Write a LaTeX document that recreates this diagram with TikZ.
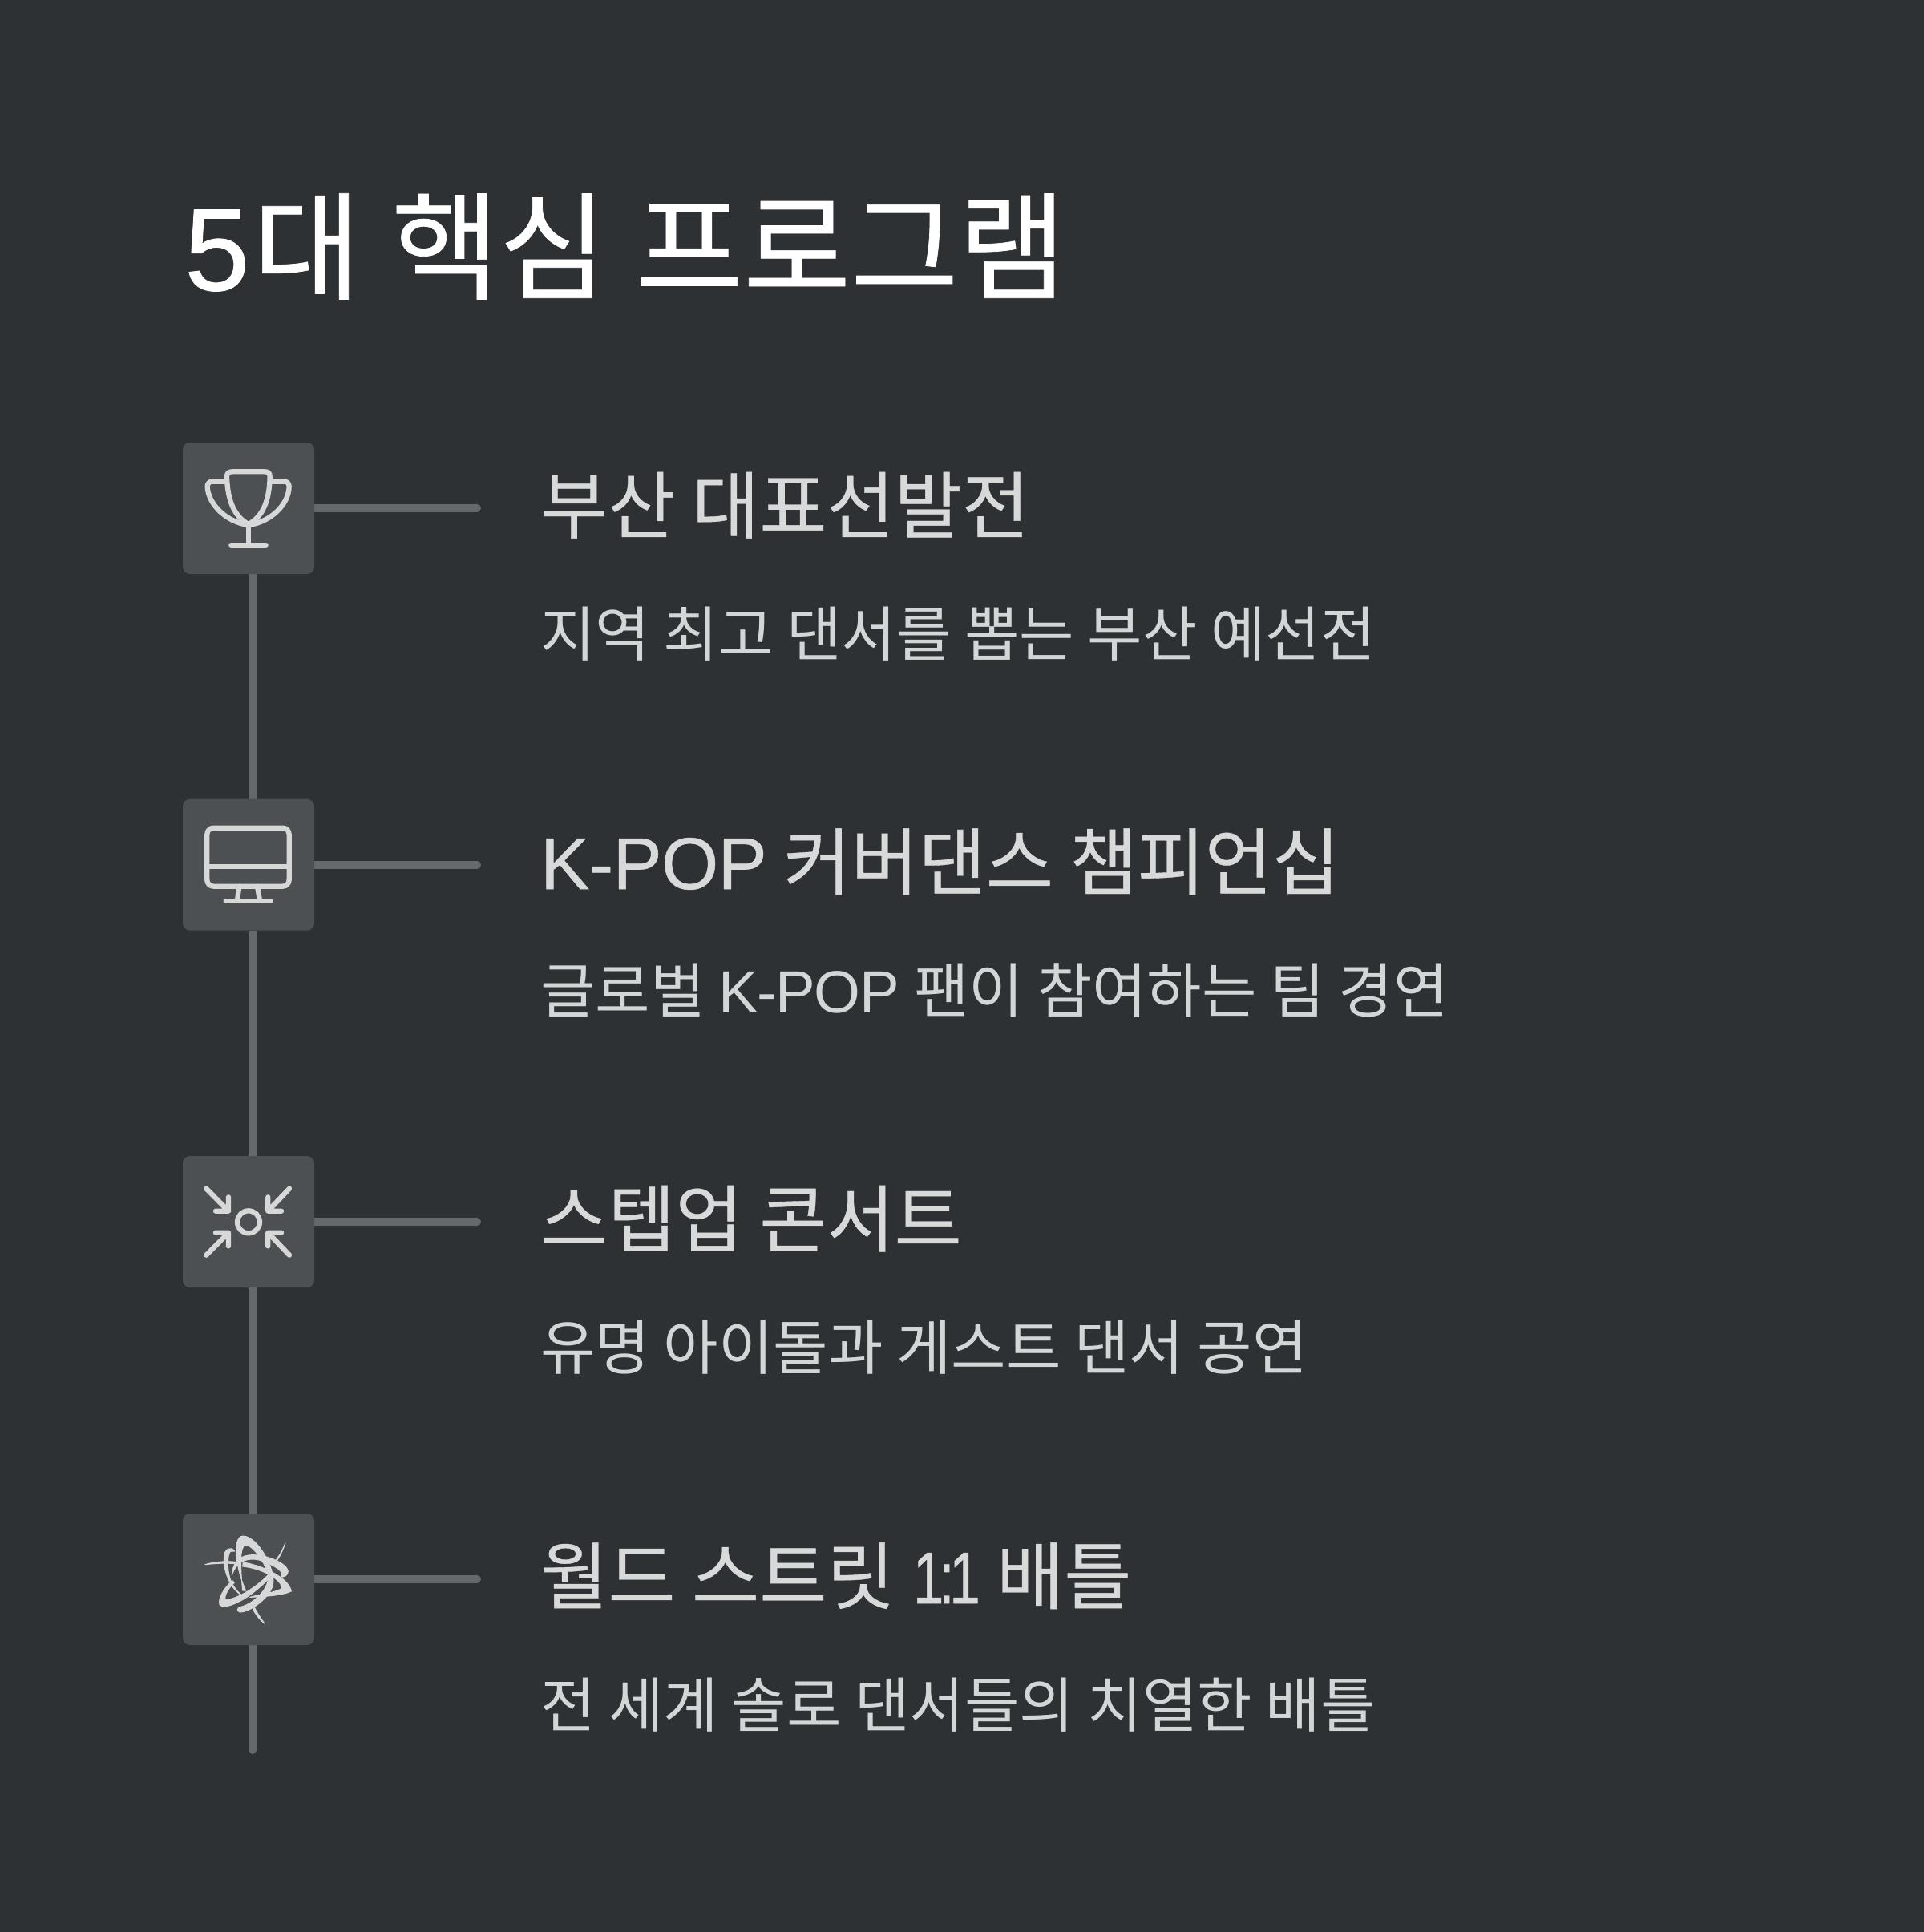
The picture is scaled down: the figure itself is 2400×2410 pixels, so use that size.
\documentclass[tikz,border=0pt]{standalone}
\usepackage{fontspec}
\usetikzlibrary{backgrounds}
\newfontfamily\krf{Noto Sans CJK KR}
\newfontfamily\krt[FakeBold=0.5]{Noto Sans CJK KR}
\newfontfamily\krh[FakeBold=0.4]{Noto Sans CJK KR}
\newfontfamily\laf{Liberation Sans}
\newfontfamily\lat[FakeBold=0.7]{Liberation Sans}
\newfontfamily\lao[FakeBold=0.7,FakeStretch=0.75]{Liberation Sans}
\newfontfamily\lah[FakeBold=0.6,LetterSpace=-0.6]{Liberation Sans}
\newfontfamily\las[LetterSpace=-2]{Liberation Sans}
\definecolor{bgc}{HTML}{2E3134}
\definecolor{boxc}{HTML}{4C5053}
\definecolor{linec}{HTML}{65696C}
\definecolor{iconc}{HTML}{D5D8D7}
\definecolor{headc}{HTML}{D8DADA}
\definecolor{subc}{HTML}{D3D6D6}
\tikzset{
  iconbox/.style={draw=none,fill=boxc,rounded corners=9pt,minimum width=164pt,minimum height=164pt,inner sep=0pt,outer sep=0pt},
  rail/.style={draw=linec,line width=10pt,line cap=round},
  vrail/.style={draw=linec,line width=10pt},
  icon/.style={draw=iconc,line width=6.3pt,line cap=round,line join=round},
  swirl/.style={fill=iconc,draw=iconc,line width=1pt,line join=round},
  titletext/.style={anchor=base west,inner sep=0pt,text=white,font=\krt\fontsize{146}{146}\selectfont},
  headtext/.style={anchor=base west,inner sep=0pt,text=headc,font=\krh\fontsize{91.5}{92}\selectfont},
  subtext/.style={anchor=base west,inner sep=0pt,text=subc,font=\krf\fontsize{74.4}{75}\selectfont},
}
\begin{document}
\begin{tikzpicture}[x=1pt,y=-1pt]
\useasboundingbox (0,0) rectangle (2400,2410);
\begin{pgfonlayer}{background}
\fill[bgc] (0,0) rectangle (2400,2410);
\end{pgfonlayer}
\node[titletext] (title) at (230,362) {{\lat 5}\kern4pt 대\hspace{6pt} 핵심\hspace{3pt} 프로그램};
\node[iconbox] (b1) at (310,634) {};
\node[iconbox] (b2) at (310,1078.7) {};
\node[iconbox] (b3) at (310,1524) {};
\node[iconbox] (b4) at (310,1970) {};
\coordinate (h1) at (595,634);
\coordinate (h2) at (595,1078.7);
\coordinate (h3) at (595,1524);
\coordinate (h4) at (595,1970);
\coordinate (vend) at (315,2183);
\begin{pgfonlayer}{background}
\draw[rail] (b1.east) -- (h1);
\draw[rail] (b2.east) -- (h2);
\draw[rail] (b3.east) -- (h3);
\draw[rail] (b4.east) -- (h4);
\draw[vrail] ([xshift=5pt]b1.south) -- ([xshift=5pt]b2.north);
\draw[vrail] ([xshift=5pt]b2.south) -- ([xshift=5pt]b3.north);
\draw[vrail] ([xshift=5pt]b3.south) -- ([xshift=5pt]b4.north);
\draw[rail] ([xshift=5pt]b4.south) -- (vend);
\end{pgfonlayer}
\node[headtext] (h1t) at (674,664.5) {부산 대표선발전};
\node[subtext] (s1t) at (674,818.5) {지역 최고 댄서를 뽑는 부산 예선전};
\node[headtext] (h2t) at (674,1109) {{\lah K-POP} 커버댄스 챔피언십};
\node[subtext] (s2t) at (674,1263) {글로벌 {\las K-POP}\kern2pt{} 팬이 참여하는 팀 경연};
\node[headtext] (h3t) at (674,1554.5) {스텝업 콘서트};
\node[subtext] (s3t) at (674,1708.5) {유명 아이돌과 게스트 댄서 공연};
\node[headtext] (h4t) at (674,2000) {월드 스트릿 \kern3pt{\lao 1\kern-6pt:\kern-6pt 1} 배틀};
\node[subtext] (s4t) at (674,2154) {전 세계 솔로 댄서들의 치열한 배틀};
% trophy
\begin{scope}[shift={(210,530)},x=0.33333pt,y=-0.33333pt]
\draw[icon] (219,195) .. controls (219,180) and (225,175) .. (240,175) -- (360,175) .. controls (375,175) and (380,180) .. (380,195) .. controls (378,290) and (350,345) .. (300,372) .. controls (250,345) and (222,290) .. (219,195) -- cycle;
\draw[icon] (219,212) -- (165,212) .. controls (152,212) and (146,220) .. (146,232) .. controls (150,300) and (220,365) .. (300,375) .. controls (380,365) and (450,300) .. (452,232) .. controls (452,220) and (446,212) .. (433,212) -- (380,212);
\draw[icon] (300,375) -- (300,449);
\draw[icon] (235,449) -- (365,449);
\end{scope}
% monitor
\begin{scope}[shift={(210,980)},x=0.33333pt,y=-0.33333pt]
\draw[icon,rounded corners=8pt] (145,158) rectangle (452,377);
\draw[icon] (145,303) -- (452,303);
\draw[icon] (265,377) -- (258,430);
\draw[icon] (333,377) -- (342,430);
\draw[icon] (215,431) -- (383,431);
\end{scope}
% arrows
\begin{scope}[shift={(210,1430)},x=0.33333pt,y=-0.33333pt]
\draw[icon] (300,283) circle [radius=14pt];
\draw[icon] (142,158) -- (225,242) (177,242) -- (225,242) -- (225,190);
\draw[icon] (453,158) -- (373,242) (423,242) -- (373,242) -- (373,190);
\draw[icon] (142,407) -- (225,323) (177,323) -- (225,323) -- (225,373);
\draw[icon] (453,407) -- (373,323) (423,323) -- (373,323) -- (373,373);
\end{scope}
% swirl
\begin{scope}[shift={(210,1880)},x=0.33333pt,y=-0.33333pt]
\path[swirl] (290,312) .. controls (255,240) and (235,110) .. (280,108) .. controls (335,110) and (400,230) .. (392,285) .. controls (385,340) and (300,395) .. (268,393) .. controls (255,390) and (255,375) .. (275,372) .. controls (320,360) and (385,300) .. (372,250) .. controls (360,200) and (310,140) .. (290,142) .. controls (265,145) and (270,230) .. (278,312) -- cycle;
\path[swirl] (275,330) .. controls (235,310) and (205,240) .. (208,190) .. controls (208,155) and (235,145) .. (248,165) -- (235,165) .. controls (222,165) and (218,230) .. (232,270) .. controls (240,295) and (260,318) .. (275,330) -- cycle;
\path[swirl] (137,215) .. controls (170,205) and (220,200) .. (250,205) -- (250,212) .. controls (210,208) and (170,212) .. (137,215) -- cycle;
\path[swirl] (238,255) .. controls (240,215) and (260,185) .. (300,180) .. controls (360,172) and (445,210) .. (448,240) .. controls (448,255) and (435,262) .. (420,262) .. controls (435,250) and (420,225) .. (340,198) .. controls (300,188) and (255,200) .. (238,255) -- cycle;
\path[swirl] (280,207) .. controls (340,215) and (450,260) .. (460,315) .. controls (430,330) and (360,335) .. (305,337) .. controls (350,325) and (390,322) .. (425,305) .. controls (425,270) and (350,230) .. (278,222) -- cycle;
\path[swirl] (240,275) .. controls (205,305) and (185,345) .. (192,365) .. controls (205,385) and (290,360) .. (385,258) -- (375,252) .. controls (320,310) and (240,350) .. (215,345) .. controls (205,340) and (225,300) .. (247,283) -- cycle;
\path[swirl] (438,133) .. controls (430,160) and (415,190) .. (398,212) -- (405,195) .. controls (420,175) and (430,155) .. (438,133) -- cycle;
\path[swirl] (360,435) .. controls (340,420) and (325,400) .. (315,378) -- (322,375) .. controls (332,395) and (345,415) .. (360,435) -- cycle;
\path[swirl] (355,200) .. controls (368,208) and (376,220) .. (380,235) .. controls (372,222) and (365,210) .. (355,200) -- cycle;
\end{scope}
\end{tikzpicture}
\end{document}
